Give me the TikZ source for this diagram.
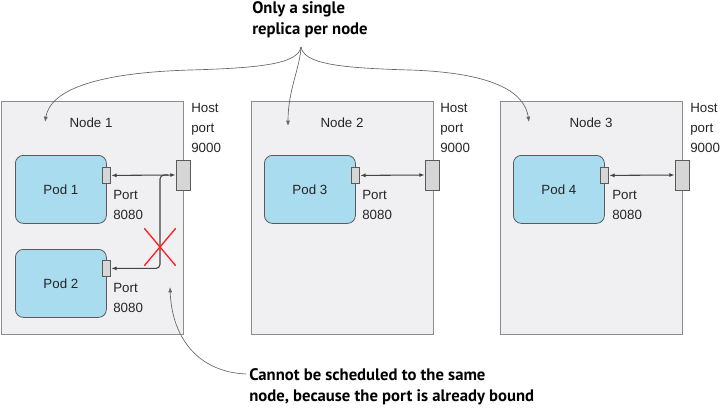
\documentclass[tikz,border=0pt]{standalone}
\usepackage{fontspec}
\setmainfont{Liberation Sans}
\newfontfamily\notefont{PT Sans}
\usetikzlibrary{shapes,arrows.meta,positioning,calc}
\definecolor{boxfill}{HTML}{F0F0F2}
\definecolor{boxline}{HTML}{8C8C8C}
\definecolor{podfill}{HTML}{A8DCEE}
\definecolor{podline}{HTML}{5A5A5A}
\definecolor{portfill}{HTML}{D6D6D6}
\definecolor{arrowgray}{HTML}{444444}
\definecolor{curvegray}{HTML}{666666}
\definecolor{crossred}{HTML}{FF1F1F}

\begin{document}
\begin{tikzpicture}[x=0.75pt, y=-0.75pt,
  every node/.style={font=\fontsize{10}{15}\selectfont, text=black!85},
  nodebox/.style={draw=boxline, fill=boxfill, line width=1pt, minimum width=136.5pt, minimum height=174.75pt, anchor=north west, inner sep=0},
  podbox/.style={draw=podline, fill=podfill, line width=0.6pt, rounded corners=6pt, minimum width=68.25pt, minimum height=51pt, anchor=north west, inner sep=0},
  podport/.style={draw=podline, fill=portfill, line width=0.6pt, minimum width=6pt, minimum height=12pt, inner sep=0},
  hostport/.style={draw=podline, fill=portfill, line width=0.6pt, minimum width=10.5pt, minimum height=22.5pt, inner sep=0},
  lbl/.style={anchor=west, align=left, inner sep=0},
  link/.style={draw=arrowgray, line width=0.8pt},
  callout/.style={draw=curvegray, line width=0.5pt, -{Latex[length=4pt,width=3pt]}},
  note/.style={anchor=west, align=left, inner sep=0, font=\notefont\bfseries\fontsize{12.5}{16}\selectfont, text=black}]
\useasboundingbox (0,0) rectangle (721,408);

% cluster nodes
\node[nodebox] (node1) at (1,101) {};
\node[nodebox] (node2) at (251,101) {};
\node[nodebox] (node3) at (500,101) {};
\node (n1txt) at (91,123) {Node 1};
\node (n2txt) at (342,123) {Node 2};
\node (n3txt) at (591,123) {Node 3};

% pods
\node[podbox] (pod1) at (15,155) {Pod 1};
\node[podbox] (pod2) at (15,249) {Pod 2};
\node[podbox] (pod3) at (264,155) {Pod 3};
\node[podbox] (pod4) at (513,155) {Pod 4};
\node[podport] (pp1) at ([yshift=10.5pt]pod1.east) {};
\node[podport] (pp2) at ([yshift=11.25pt]pod2.east) {};
\node[podport] (pp3) at ([yshift=10.5pt]pod3.east) {};
\node[podport] (pp4) at ([yshift=10.5pt]pod4.east) {};
\node[lbl] (pl1) at (113,205) {Port\\8080};
\node[lbl] (pl2) at (113,298) {Port\\8080};
\node[lbl] (pl3) at (362,205) {Port\\8080};
\node[lbl] (pl4) at (612,205) {Port\\8080};

% host ports
\node[hostport] (hp1) at (183,175) {};
\node[hostport] (hp2) at (432,175) {};
\node[hostport] (hp3) at (682,175) {};
\node[lbl] (hl1) at (191,128) {Host\\port\\9000};
\node[lbl] (hl2) at (440,128) {Host\\port\\9000};
\node[lbl] (hl3) at (690,128) {Host\\port\\9000};

% port mappings
\draw[link, {Latex[length=4pt,width=3pt]}-{Latex[length=4pt,width=3pt]}] (pp1.east) -- (hp1.west);
\draw[link, {Latex[length=4pt,width=3pt]}-{Latex[length=4pt,width=3pt]}] (pp3.east) -- (hp2.west);
\draw[link, {Latex[length=4pt,width=3pt]}-{Latex[length=4pt,width=3pt]}] (pp4.east) -- (hp3.west);
\coordinate (br) at (160,175);
\draw[link, rounded corners=3pt, -{Latex[length=4pt,width=3pt]}] ($(br)+(8,0)$) -- (br) |- (pp2.east);
\node[cross out, draw=crossred, line width=1pt, minimum width=22.5pt, minimum height=27pt, inner sep=0] (xmark) at (160,247) {};

% callouts
\node[note] (note1) at (252,20) {Only a single\\replica per node};
\coordinate (split) at (301,47);
\draw[callout] (split) .. controls (298,64) and (260,68) .. (190,70) .. controls (90,73) and (50,92) .. (45,122);
\draw[callout] (split) .. controls (300,68) and (288,90) .. (288,126);
\draw[callout] (split) .. controls (304,64) and (340,68) .. (410,70) .. controls (500,73) and (525,95) .. (529,122);
\node[note] (note2) at (249,387) {Cannot be scheduled to the same\\node, because the port is already bound};
\coordinate (from) at (246,374);
\draw[callout] (from) .. controls (200,372) and (172,340) .. (170,287);
\end{tikzpicture}
\end{document}
